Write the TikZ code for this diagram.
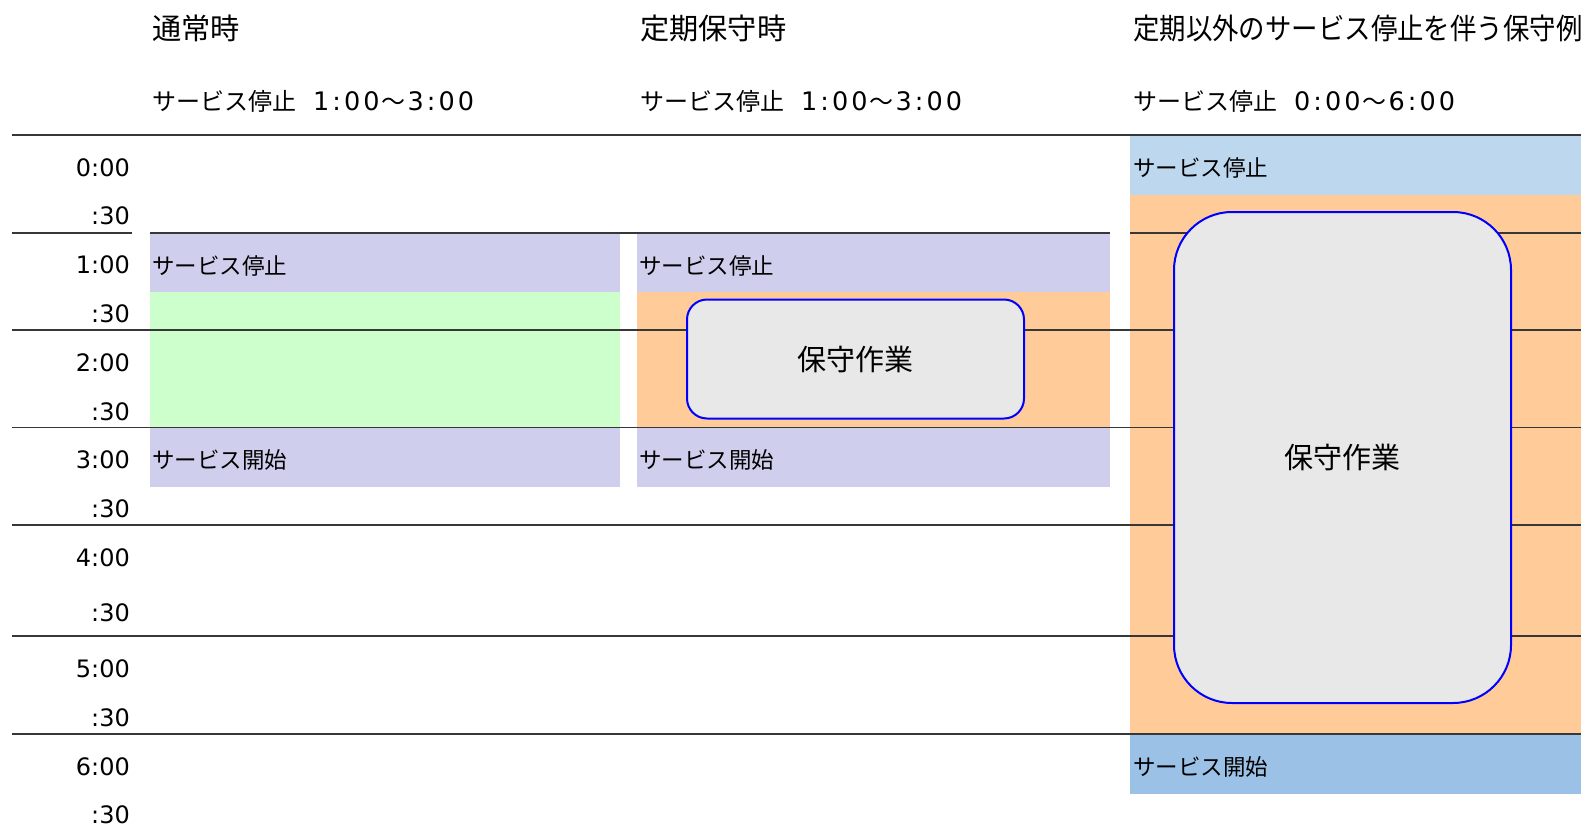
\documentclass[tikz,border=0pt]{standalone}
\usepackage{fontspec}
\setmainfont{DejaVu Sans}
\newfontfamily\jp{Noto Sans CJK JP}
\newfontfamily\hdig[LetterSpace=12]{DejaVu Sans}
\definecolor{lav}{RGB}{207,207,237}
\definecolor{mint}{RGB}{204,255,204}
\definecolor{peach}{RGB}{255,204,153}
\definecolor{skyl}{RGB}{189,215,238}
\definecolor{skyd}{RGB}{155,194,230}
\definecolor{boxgray}{RGB}{232,232,232}
\definecolor{linegray}{RGB}{55,55,55}
\newcommand{\tld}{{\jp\fontsize{24}{26}\selectfont\hspace{2pt}～\hspace{2pt}}}
\newcommand{\stopjp}{{\jp\fontsize{24}{26}\selectfont サービス停止}}
\begin{document}
\begin{tikzpicture}[x=1pt,y=-1pt,
  gridline/.style={draw=linegray, line width=1.5pt},
  title/.style={anchor=west, inner sep=0pt, font=\jp\fontsize{29.2}{31}\selectfont},
  subtitle/.style={anchor=west, inner sep=0pt, font=\hdig\fontsize{25.5}{27}\selectfont},
  celltext/.style={anchor=west, inner sep=0pt, font=\jp\fontsize{22.5}{24}\selectfont},
  timelbl/.style={anchor=east, inner sep=0pt, font=\fontsize{24}{26}\selectfont},
  workbox/.style={draw={rgb,255:red,0;green,0;blue,255}, fill=boxgray, line width=2pt, anchor=north west, inner sep=0pt, font=\jp\fontsize{29}{31}\selectfont}
]
\useasboundingbox (0,0) rectangle (1581,827);
% fills
\fill[lav] (150,233) rectangle (620,291.5);
\fill[mint] (150,291.5) rectangle (620,427.5);
\fill[lav] (150,427.5) rectangle (620,487);
\fill[lav] (637,233) rectangle (1110,291.5);
\fill[peach] (637,291.5) rectangle (1110,427.5);
\fill[lav] (637,427.5) rectangle (1110,487);
\fill[skyl] (1130,135) rectangle (1581,194.6);
\fill[peach] (1130,194.6) rectangle (1581,734);
\fill[skyd] (1130,734) rectangle (1581,793.5);
% grid lines
\draw[gridline] (12,135) -- (1581,135);
\draw[gridline] (12,233) -- (132,233);
\draw[gridline] (150,233) -- (1110,233);
\draw[gridline] (1130,233) -- (1581,233);
\foreach \yy in {330,427.5,525,636,734} {\draw[gridline] (12,\yy) -- (1581,\yy);}
% work boxes
\node[workbox, rounded corners=20pt, minimum width=337pt, minimum height=119pt] (work1) at (686,298.5) {保守作業};
\node[workbox, rounded corners=58pt, minimum width=337pt, minimum height=491pt] (work2) at (1173,211) {保守作業};
% titles
\node[title] (t1) at (152,28.5) {通常時};
\node[title] (t2) at (640,28.5) {定期保守時};
\node[title] (t3) at (1133,28.5) {\scalebox{0.905}[1]{定期以外のサービス停止を伴う保守例}};
\node[subtitle] (s1) at (152,101) {\stopjp\hspace{17pt}1:00\tld 3:00};
\node[subtitle] (s2) at (640,101) {\stopjp\hspace{17pt}1:00\tld 3:00};
\node[subtitle] (s3) at (1133,101) {\stopjp\hspace{17pt}0:00\tld 6:00};
% cell texts
\node[celltext] (c1a) at (152,265.5) {サービス停止};
\node[celltext] (c1b) at (152,460) {サービス開始};
\node[celltext] (c2a) at (639,265.5) {サービス停止};
\node[celltext] (c2b) at (639,460) {サービス開始};
\node[celltext] (c3a) at (1133,168) {サービス停止};
\node[celltext] (c3b) at (1133,767) {サービス開始};
% time labels
\node[timelbl] (h0) at (130,167.4) {0:00};
\node[timelbl] (h0b) at (130,215.8) {:30};
\node[timelbl] (h1) at (130,265.2) {1:00};
\node[timelbl] (h1b) at (130,313.6) {:30};
\node[timelbl] (h2) at (130,363) {2:00};
\node[timelbl] (h2b) at (130,411.4) {:30};
\node[timelbl] (h3) at (130,459.8) {3:00};
\node[timelbl] (h3b) at (130,509.2) {:30};
\node[timelbl] (h4) at (130,557.6) {4:00};
\node[timelbl] (h4b) at (130,613) {:30};
\node[timelbl] (h5) at (130,668.5) {5:00};
\node[timelbl] (h5b) at (130,718) {:30};
\node[timelbl] (h6) at (130,766.3) {6:00};
\node[timelbl] (h6b) at (130,814.7) {:30};
\end{tikzpicture}
\end{document}
